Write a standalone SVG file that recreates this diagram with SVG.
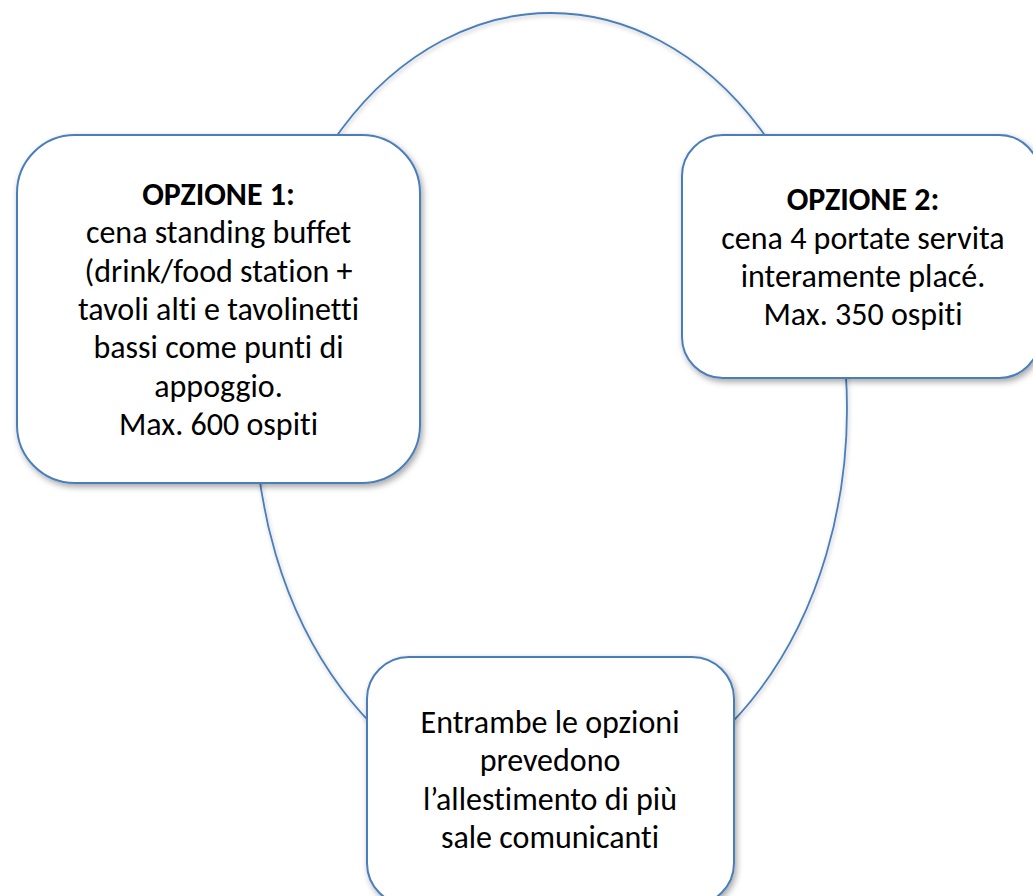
<svg xmlns="http://www.w3.org/2000/svg" width="1033" height="896" viewBox="0 0 1033 896">
  <defs>
    <filter id="sh" x="-10%" y="-10%" width="125%" height="125%">
      <feDropShadow dx="2" dy="3" stdDeviation="3" flood-color="#000" flood-opacity="0.35"/>
    </filter>
    <filter id="shl" x="-10%" y="-10%" width="125%" height="125%">
      <feDropShadow dx="1" dy="2" stdDeviation="2" flood-color="#000" flood-opacity="0.25"/>
    </filter>
  </defs>
  <style>
    .box { fill: #ffffff; stroke: #4a7ebb; stroke-width: 2; filter: url(#sh); }
    .ring { fill: none; stroke: #4a7ebb; stroke-width: 1.8; filter: url(#shl); }
    .t { font-family: Carlito, Calibri, "Liberation Sans", sans-serif; font-size: 32px; fill: #000; text-anchor: middle; font-variant-ligatures: none; font-feature-settings: "liga" 0, "clig" 0; }
    .b { font-weight: bold; }
  </style>
  <rect width="1033" height="896" fill="#ffffff"/>
  <g id="connectors">
    <ellipse class="ring" cx="551" cy="409" rx="296" ry="396"/>
  </g>
  <g id="node-opzione1">
    <rect class="box" x="17" y="135" width="403" height="348" rx="58" ry="58"/>
    <text class="t b" x="218.5" y="205">OPZIONE 1:</text>
    <text class="t" x="218.5" y="243">cena standing buffet</text>
    <text class="t" x="218.5" y="282">(drink/food station +</text>
    <text class="t" x="218.5" y="320">tavoli alti e tavolinetti</text>
    <text class="t" x="218.5" y="358">bassi come punti di</text>
    <text class="t" x="218.5" y="397">appoggio.</text>
    <text class="t" x="218.5" y="435">Max. 600 ospiti</text>
  </g>
  <g id="node-opzione2">
    <rect class="box" x="682" y="135" width="358" height="243" rx="41" ry="41"/>
    <text class="t b" x="863" y="210">OPZIONE 2:</text>
    <text class="t" x="863" y="249">cena 4 portate servita</text>
    <text class="t" x="863" y="287">interamente placé.</text>
    <text class="t" x="863" y="325">Max. 350 ospiti</text>
  </g>
  <g id="node-entrambe">
    <rect class="box" x="367" y="657" width="367" height="248" rx="42" ry="42"/>
    <text class="t" x="550" y="733">Entrambe le opzioni</text>
    <text class="t" x="550" y="771">prevedono</text>
    <text class="t" x="550" y="810">l’allestimento di più</text>
    <text class="t" x="550" y="848">sale comunicanti</text>
  </g>
</svg>
